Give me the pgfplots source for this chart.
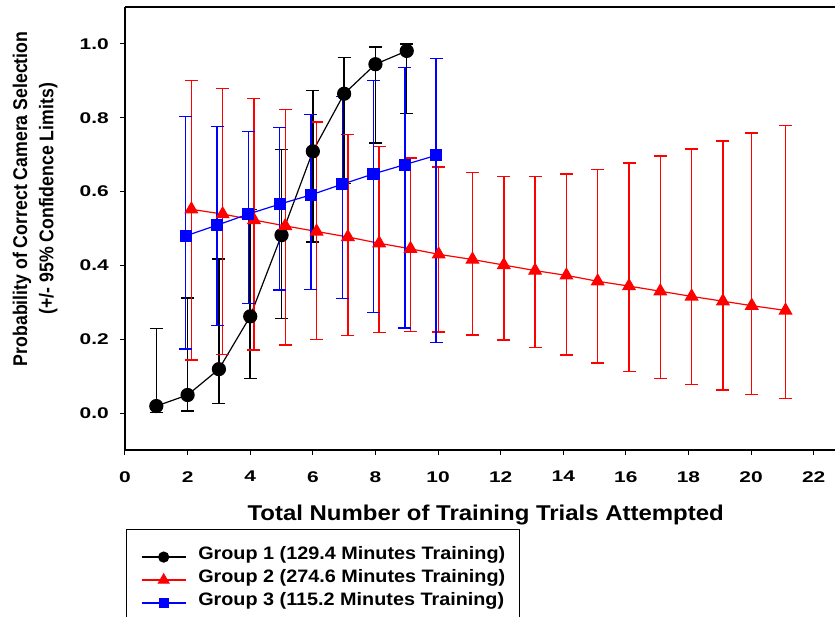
\documentclass[border=0pt]{standalone}
\usepackage{fontspec}
\setmainfont{Liberation Sans}
\newfontfamily\xlfont{Liberation Sans}[FakeStretch=1.12]
\newfontfamily\lgfont{Liberation Sans}[FakeStretch=1.1]
\newfontfamily\tkfont{Liberation Sans}[FakeStretch=1.35]
\newfontfamily\ylfont{Liberation Sans}
\usepackage{pgfplots}
\pgfplotsset{compat=1.18}
\usepackage{pgfplotstable}

% Group 1 (black circles)
\pgfplotstableread{
x y lo hi
1 0.019 0.002 0.229
2 0.049 0.006 0.312
3 0.119 0.026 0.418
4 0.262 0.094 0.552
5 0.482 0.256 0.714
6 0.709 0.463 0.874
7 0.865 0.622 0.963
8 0.945 0.731 0.992
9 0.981 0.811 1.000
}\gA
% Group 2 (red triangles)
\pgfplotstableread{
x y lo hi
2.12 0.552 0.144 0.901
3.12 0.539 0.158 0.879
4.12 0.523 0.171 0.852
5.12 0.507 0.185 0.822
6.12 0.492 0.199 0.789
7.12 0.477 0.210 0.755
8.12 0.460 0.218 0.722
9.12 0.445 0.221 0.691
10.02 0.430 0.220 0.667
11.1 0.416 0.212 0.651
12.1 0.401 0.198 0.641
13.1 0.386 0.178 0.641
14.1 0.373 0.157 0.648
15.1 0.357 0.135 0.660
16.1 0.344 0.113 0.678
17.1 0.330 0.094 0.696
18.1 0.316 0.077 0.716
19.1 0.303 0.062 0.737
20.02 0.291 0.050 0.758
21.1 0.278 0.040 0.779
}\gB
% Group 3 (blue squares)
\pgfplotstableread{
x y lo hi
1.94 0.480 0.173 0.803
2.94 0.509 0.237 0.776
3.94 0.539 0.297 0.763
4.94 0.566 0.333 0.774
5.94 0.591 0.335 0.809
6.94 0.620 0.310 0.858
7.94 0.648 0.273 0.901
8.94 0.673 0.230 0.936
9.94 0.698 0.191 0.961
}\gC

\begin{document}
\begin{tikzpicture}
\begin{axis}[
  scale only axis, width=710pt, height=443pt,
  xmin=0, xmax=22.68, ymin=-0.1, ymax=1.1,
  axis x line*=box, axis y line*=left,
  axis line style={-, line width=1.2pt, black},
  xtick={0,2,4,6,8,10,12,14,16,18,20,22},
  ytick={0,0.2,0.4,0.6,0.8,1},
  xtick pos=bottom, ytick pos=left,
  tick align=outside, major tick length=5pt,
  tick style={line width=1pt, black},
  minor tick num=0,
  yticklabel style={/pgf/number format/.cd, fixed, fixed zerofill, precision=1},
  /pgf/number format/assume math mode=true,
  ticklabel style={font=\tkfont\bfseries\fontsize{15.5}{18}\selectfont, inner sep=0pt},
  xticklabel shift=16pt,
  yticklabel shift=11pt,
  xlabel={Total Number of Training Trials Attempted},
  xlabel style={font=\xlfont\bfseries\fontsize{21.4}{24}\selectfont, at={(axis description cs:0.508,-0.160)}, anchor=base, inner sep=0pt},
  ylabel={Probability of Correct Camera Selection\\(+/- 95\% Confidence Limits)},
  ylabel style={font=\ylfont\bfseries\fontsize{17.7}{23.5}\selectfont, align=center, at={(axis description cs:-0.1265,0.567)}, anchor=center, inner sep=0pt, yscale=1.12},
  legend style={at={(axis description cs:0.0014,-0.1783)}, anchor=north west,
    draw=black, line width=1.2pt, inner xsep=14.5pt, inner ysep=16pt,
    row sep=0pt,
    nodes={inner sep=0pt, text height=14pt, text depth=9pt, font=\lgfont\bfseries\fontsize{18}{21}\selectfont}},
  legend cell align=left,
  legend image code/.code={
    \draw[mark repeat=2, mark phase=2, line width=1.2pt] plot coordinates {(0pt,0pt) (22pt,0pt) (44pt,0pt)};
    \path (56pt,0pt);
  },
]
\addlegendimage{black, mark=*, mark size=5pt}
\addlegendentry{Group 1 (129.4 Minutes Training)}
\addlegendimage{red, mark=triangle*, mark size=6pt}
\addlegendentry{Group 2 (274.6 Minutes Training)}
\addlegendimage{blue, mark=square*, mark size=4.5pt}
\addlegendentry{Group 3 (115.2 Minutes Training)}

\addplot[black, line width=1.2pt, mark=*, mark size=6.5pt, forget plot,
  error bars/.cd, y dir=both, y explicit,
  error bar style={line width=1.5pt, black},
  error mark options={rotate=90, mark size=6.5pt, line width=1.5pt, black}]
  table[x=x, y=y, y error plus expr=\thisrow{hi}-\thisrow{y}, y error minus expr=\thisrow{y}-\thisrow{lo}] {\gA};

\addplot[red, line width=1.2pt, mark=triangle*, mark size=7pt, forget plot,
  error bars/.cd, y dir=both, y explicit,
  error bar style={line width=1.5pt, red},
  error mark options={rotate=90, mark size=6.5pt, line width=1.5pt, red}]
  table[x=x, y=y, y error plus expr=\thisrow{hi}-\thisrow{y}, y error minus expr=\thisrow{y}-\thisrow{lo}] {\gB};

\addplot[blue, line width=1.2pt, mark=square*, mark size=5.5pt, forget plot,
  error bars/.cd, y dir=both, y explicit,
  error bar style={line width=1.5pt, blue},
  error mark options={rotate=90, mark size=6.5pt, line width=1.5pt, blue}]
  table[x=x, y=y, y error plus expr=\thisrow{hi}-\thisrow{y}, y error minus expr=\thisrow{y}-\thisrow{lo}] {\gC};

\coordinate (sw) at (rel axis cs:0,0);
\end{axis}
\pgfresetboundingbox
\path[use as bounding box] ([shift={(-125pt,-167pt)}]sw) rectangle ([shift={(711pt,450pt)}]sw);
\end{tikzpicture}
\end{document}
